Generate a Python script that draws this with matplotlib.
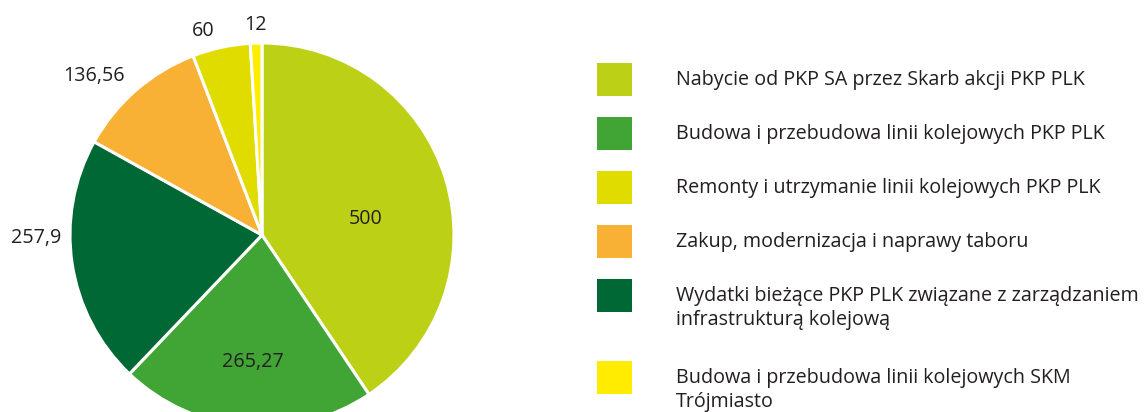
import matplotlib
matplotlib.use("Agg")
import matplotlib.pyplot as plt
from matplotlib.patches import Rectangle

# Data (clockwise from top)
values = [500, 265.27, 257.9, 136.56, 60, 12]
value_labels = ["500", "265,27", "257,9", "136,56", "60", "12"]
colors = ["#BCD016", "#40A535", "#006834", "#F8B135", "#E0DC00", "#FFEC00"]

legend_labels = [
    "Nabycie od PKP SA przez Skarb akcji PKP PLK",
    "Budowa i przebudowa linii kolejowych PKP PLK",
    "Remonty i utrzymanie linii kolejowych PKP PLK",
    "Zakup, modernizacja i naprawy taboru",
    "Wydatki bieżące PKP PLK związane z zarządzaniem\ninfrastrukturą kolejową",
    "Budowa i przebudowa linii kolejowych SKM\nTrójmiasto",
]
legend_colors = ["#BCD016", "#40A535", "#E0DC00", "#F8B135", "#006834", "#FFEC00"]

W, H = 1147, 412
plt.rcParams['font.family'] = ['Open Sans', 'DejaVu Sans']
fig = plt.figure(figsize=(W / 100, H / 100), dpi=100)
ax = fig.add_axes([0, 0, 1, 1])

def Y(yp):
    return H - yp

cx, cy, r = 262, 235, 192
ax.pie(values, colors=colors, startangle=90, counterclock=False,
       center=(cx, Y(cy)), radius=r,
       wedgeprops=dict(edgecolor="white", linewidth=2.2))
ax.set_xlim(0, W)
ax.set_ylim(0, H)
ax.set_aspect("equal")
ax.axis("off")

# label anchor points (text centre x, baseline y) in pixels
label_pos = [(366, 224), (253, 367), (36, 243), (94, 81), (203, 36), (256, 30)]
fs = 14.2
tc = "#231F20"
for lab, (x, y) in zip(value_labels, label_pos):
    ax.text(x, Y(y), lab, ha="center", va="baseline", fontsize=fs, color=tc)

# Legend
box_tops = [63, 117, 171, 225, 279, 361]
for t, lab, c in zip(box_tops, legend_labels, legend_colors):
    ax.add_patch(Rectangle((597, Y(t + 33)), 35, 33, facecolor=c, edgecolor="none"))
    for k, line in enumerate(lab.split("\n")):
        ax.text(676, Y(t + 22 + 24.5 * k), line, ha="left", va="baseline",
                fontsize=fs, color=tc)

fig.savefig("out.png", dpi=100)
